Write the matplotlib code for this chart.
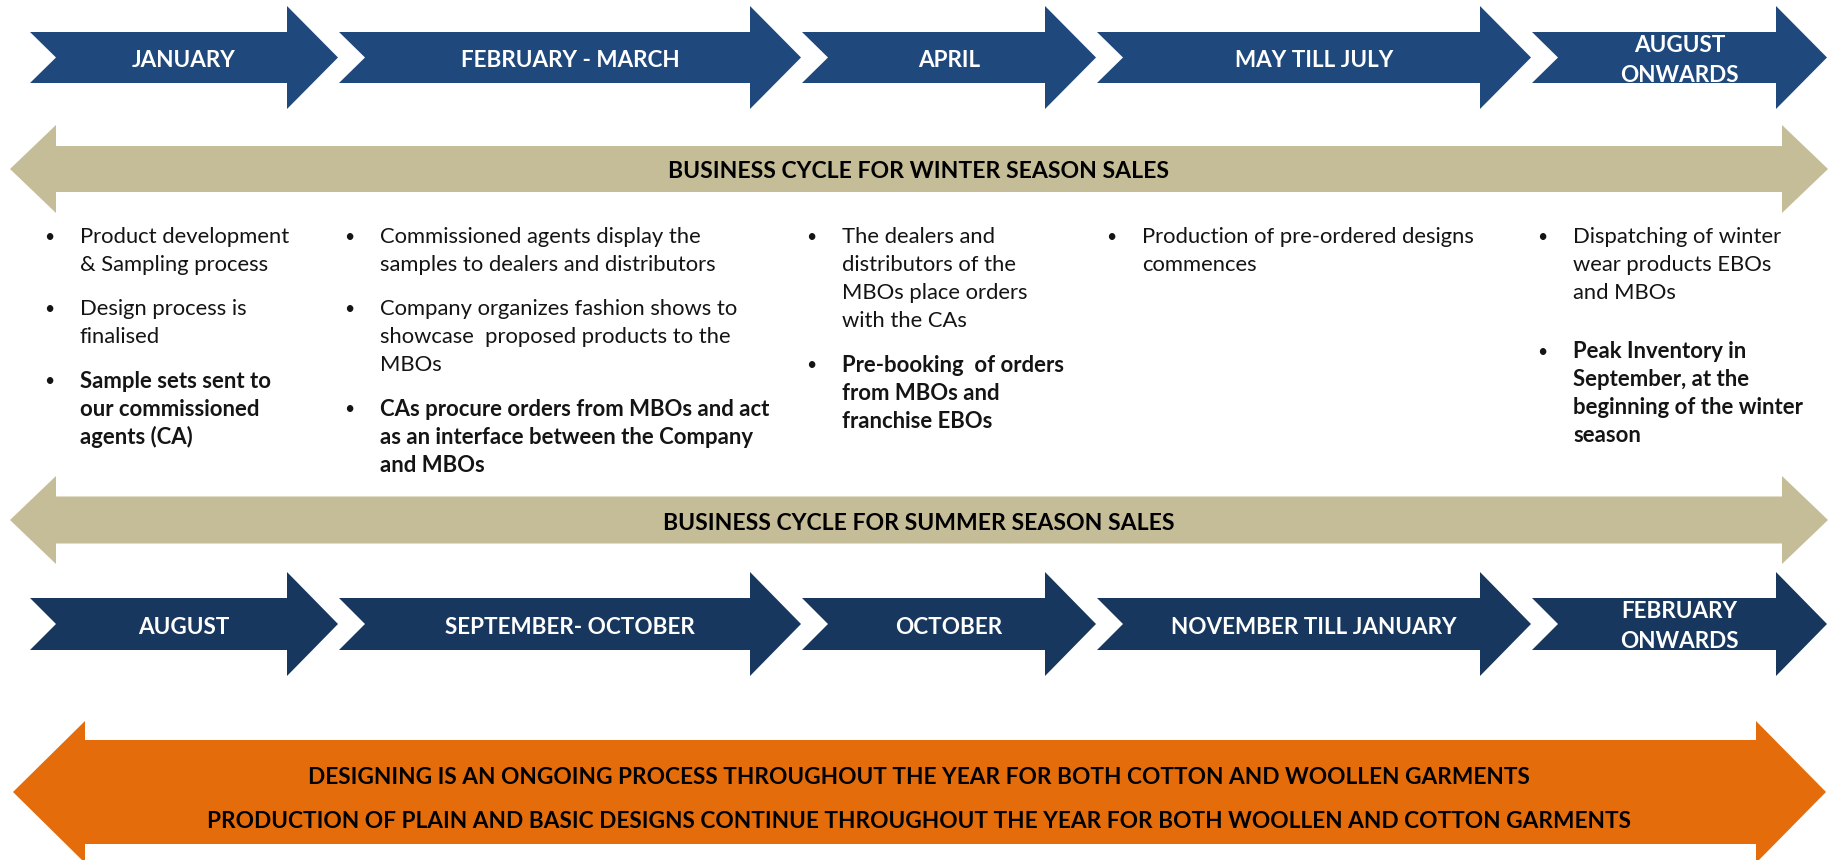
import matplotlib
matplotlib.use("Agg")
import matplotlib.pyplot as plt
from matplotlib.patches import Polygon

# ------------------------------------------------------------------ data
winter_periods = ["JANUARY", "FEBRUARY - MARCH", "APRIL", "MAY TILL JULY", "AUGUST\nONWARDS"]
summer_periods = ["AUGUST", "SEPTEMBER- OCTOBER", "OCTOBER", "NOVEMBER TILL JANUARY", "FEBRUARY\nONWARDS"]
winter_title = "BUSINESS CYCLE FOR WINTER SEASON SALES"
summer_title = "BUSINESS CYCLE FOR SUMMER SEASON SALES"
ongoing_lines = [
    "DESIGNING IS AN ONGOING PROCESS THROUGHOUT THE YEAR FOR BOTH COTTON AND WOOLLEN GARMENTS",
    "PRODUCTION OF PLAIN AND BASIC DESIGNS CONTINUE THROUGHOUT THE YEAR FOR BOTH WOOLLEN AND COTTON GARMENTS",
]
col1_bullets = [("Product development\n& Sampling process", False),
                ("Design process is\nfinalised", False),
                ("Sample sets sent to\nour commissioned\nagents (CA)", True)]
col2_bullets = [("Commissioned agents display the\nsamples to dealers and distributors", False),
                ("Company organizes fashion shows to\nshowcase  proposed products to the\nMBOs", False),
                ("CAs procure orders from MBOs and act\nas an interface between the Company\nand MBOs", True)]
col3_bullets = [("The dealers and\ndistributors of the\nMBOs place orders\nwith the CAs", False),
                ("Pre-booking  of orders\nfrom MBOs and\nfranchise EBOs", True)]
col4_bullets = [("Production of pre-ordered designs\ncommences", False)]
col5_bullets = [("Dispatching of winter\nwear products EBOs\nand MBOs", False),
                ("Peak Inventory in\nSeptember, at the\nbeginning of the winter\nseason", True)]
columns = [col1_bullets, col2_bullets, col3_bullets, col4_bullets, col5_bullets]

# ------------------------------------------------------------------ layout (pixels)
W, H, DPI = 1834, 860, 100
FONT = "Lato"
NAVY_TOP = "#1F497D"
NAVY_BOT = "#17375E"
TAN = "#C4BD97"
ORANGE = "#E46C0A"
TXT = "#141414"

chev_x = [(30, 338), (339, 801), (802, 1096), (1097, 1531), (1532, 1827)]
HEAD_LEN, NOTCH = 51, 26
col_text_x = [80, 380, 842, 1142, 1573]
BULLET_DX = 31  # distance from bullet centre to text start
col_para_gap = [44, 44, 44, 44, 59]
LINE_H = 28
FIRST_LINE_Y = 237
TY = 3  # visual centring offset for caps text

fig = plt.figure(figsize=(W / DPI, H / DPI), dpi=DPI)
ax = fig.add_axes([0, 0, 1, 1])
ax.set_xlim(0, W)
ax.set_ylim(H, 0)
ax.axis("off")
renderer = fig.canvas.get_renderer()


def fit_size(text, target, weight):
    t = ax.text(0, 0, text, fontsize=20, fontweight=weight, family=FONT)
    w = t.get_window_extent(renderer).width
    t.remove()
    return 20 * target / w


def chevron(left, tip, yc, bh, hh, color):
    hs = tip - HEAD_LEN
    pts = [(left, yc - bh), (hs, yc - bh), (hs, yc - hh), (tip, yc),
           (hs, yc + hh), (hs, yc + bh), (left, yc + bh), (left + NOTCH, yc)]
    ax.add_patch(Polygon(pts, closed=True, facecolor=color, edgecolor="none"))


def double_arrow(lt, lb, rb, rt, yc, bh, hh, color):
    pts = [(lt, yc), (lb, yc - hh), (lb, yc - bh), (rb, yc - bh), (rb, yc - hh),
           (rt, yc), (rb, yc + hh), (rb, yc + bh), (lb, yc + bh), (lb, yc + hh)]
    ax.add_patch(Polygon(pts, closed=True, facecolor=color, edgecolor="none"))


fs_chev = fit_size("FEBRUARY - MARCH", 220, "bold")
fs_title = fit_size(winter_title, 500, "bold")
fs_orange = fit_size(ongoing_lines[1], 1422, "bold")
fs_reg = fit_size("Production of pre-ordered designs", 334, "normal")
fs_bold = fit_size("CAs procure orders from MBOs and act", 388, "bold")


def chevron_row(labels, yc, bh, hh, color):
    for (left, tip), lab in zip(chev_x, labels):
        chevron(left, tip, yc, bh, hh, color)
        lines = lab.split("\n")
        n = len(lines)
        for i, ln in enumerate(lines):
            y = yc + TY + (i - (n - 1) / 2) * 30
            ax.text((left + tip) / 2, y, ln, color="white", fontsize=fs_chev,
                    fontweight="bold", family=FONT, ha="center", va="center")


# top / bottom chevron rows
chevron_row(winter_periods, 57.5, 25.5, 51.5, NAVY_TOP)
chevron_row(summer_periods, 624, 26, 52, NAVY_BOT)

# tan double arrows
double_arrow(10, 56, 1782, 1828, 169, 23, 44, TAN)
ax.text(919, 169 + TY, winter_title, fontsize=fs_title, fontweight="bold", family=FONT,
        color="black", ha="center", va="center")
double_arrow(10, 56, 1782, 1828, 520, 23.5, 44, TAN)
ax.text(919, 520 + TY, summer_title, fontsize=fs_title, fontweight="bold", family=FONT,
        color="black", ha="center", va="center")

# orange ongoing arrow
double_arrow(13, 85, 1756, 1826, 792, 52, 71, ORANGE)
for ln, y in zip(ongoing_lines, [774, 818]):
    ax.text(919, y + TY, ln, fontsize=fs_orange, fontweight="bold", family=FONT,
            color="black", ha="center", va="center")

# bullet columns
for col, tx, gap in zip(columns, col_text_x, col_para_gap):
    y = FIRST_LINE_Y
    for k, (para, bold) in enumerate(col):
        if k > 0:
            y += gap - LINE_H
        lines = para.split("\n")
        fs = fs_bold if bold else fs_reg
        ax.text(tx - BULLET_DX, y, "\u2022", fontsize=fs_reg * 0.8, family=FONT,
                color=TXT, ha="center", va="center")
        for ln in lines:
            ax.text(tx, y, ln, fontsize=fs, fontweight="bold" if bold else "normal",
                    family=FONT, color=TXT, ha="left", va="center")
            y += LINE_H

fig.savefig("out.png", dpi=DPI)
